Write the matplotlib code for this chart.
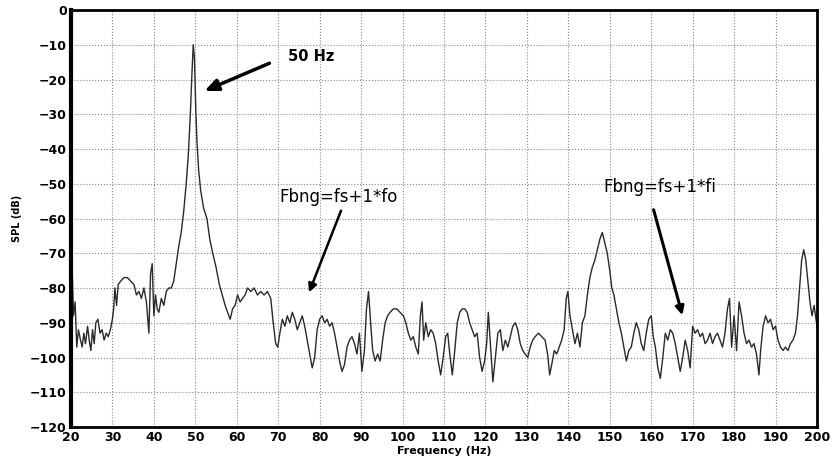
import matplotlib
matplotlib.use('Agg')
import matplotlib.pyplot as plt
import numpy as np

# spectrum: frequency (Hz) and SPL (dB)
freq = [20.0, 20.3, 20.6, 21.0, 21.4, 21.8, 22.3, 22.7, 23.1, 23.5, 24.0, 24.4, 24.8, 25.2, 25.6, 26.0,
        26.5, 27.0, 27.5, 28.0, 28.5, 29.0, 29.5, 30.0, 30.3, 30.6, 31.0, 31.4, 32.0, 32.8, 33.6, 34.4,
        35.2, 35.8, 36.4, 37.0, 37.6, 38.2, 38.8, 39.2, 39.6, 40.0, 40.4, 40.8, 41.2, 41.8, 42.4, 43.0,
        43.6, 44.2, 44.8, 45.4, 46.0, 46.6, 47.2, 47.8, 48.3, 48.8, 49.2, 49.5, 49.8, 50.1, 50.4, 50.8,
        51.3, 52.0, 52.8, 53.5, 54.2, 55.0, 55.8, 56.5, 57.2, 57.8, 58.4, 59.0, 59.6, 60.2, 60.8, 61.4,
        62.0, 62.6, 63.4, 64.2, 65.0, 65.8, 66.6, 67.4, 68.2, 68.8, 69.4, 69.9, 70.4, 71.0, 71.6, 72.2,
        72.8, 73.4, 74.0, 74.6, 75.2, 75.8, 76.4, 77.0, 77.6, 78.2, 78.8, 79.4, 80.0, 80.6, 81.2, 81.8,
        82.4, 83.0, 83.6, 84.2, 84.8, 85.4, 86.0, 86.6, 87.2, 87.8, 88.4, 89.0, 89.6, 90.2, 90.8, 91.3,
        91.8, 92.3, 92.8, 93.4, 94.0, 94.6, 95.2, 95.8, 96.4, 97.0, 97.8, 98.6, 99.4, 100.2, 100.8, 101.4,
        102.0, 102.6, 103.2, 103.8, 104.3, 104.7, 105.1, 105.6, 106.2, 106.8, 107.4, 108.0, 108.6, 109.2,
        109.8, 110.4, 110.9, 111.4, 112.0, 112.6, 113.2, 113.8, 114.4, 115.0, 115.6, 116.2, 116.8, 117.4,
        118.0, 118.6, 119.2, 119.8, 120.3, 120.7, 121.2, 121.8, 122.4, 123.0, 123.6, 124.2, 124.8, 125.4,
        126.0, 126.6, 127.2, 127.8, 128.4, 129.0, 129.6, 130.2, 130.8, 131.4, 132.0, 132.8, 133.6, 134.4,
        135.0, 135.5, 136.0, 136.6, 137.2, 137.8, 138.4, 139.0, 139.5, 139.9, 140.4, 141.0, 141.6, 142.2,
        142.8, 143.4, 144.0, 144.6, 145.2, 145.8, 146.4, 147.0, 147.6, 148.2, 148.8, 149.4, 150.0, 150.5,
        151.0, 151.6, 152.2, 152.8, 153.4, 154.0, 154.6, 155.2, 155.8, 156.4, 157.0, 157.6, 158.2, 158.8,
        159.4, 160.0, 160.5, 161.0, 161.6, 162.2, 162.8, 163.4, 164.0, 164.6, 165.2, 165.8, 166.4, 167.0,
        167.6, 168.2, 168.8, 169.4, 170.0, 170.6, 171.2, 171.8, 172.4, 173.0, 173.6, 174.2, 174.8, 175.4,
        176.0, 176.6, 177.2, 177.8, 178.4, 178.9, 179.4, 180.0, 180.6, 181.2, 181.8, 182.4, 183.0, 183.6,
        184.2, 184.8, 185.4, 186.0, 186.4, 187.0, 187.6, 188.2, 188.8, 189.4, 190.0, 190.6, 191.2, 191.8,
        192.4, 193.0, 193.6, 194.2, 194.8, 195.3, 195.8, 196.3, 196.8, 197.3, 197.8, 198.3, 198.8, 199.3,
        200.0]
spl = [-68, -75, -88, -84, -97, -92, -95, -97, -93, -96, -91, -95, -98, -92, -96, -90,
       -89, -93, -92, -95, -93, -94, -92, -89, -86, -80, -85, -79, -78, -77, -77, -78,
       -79, -82, -81, -83, -80, -84, -93, -76, -73, -88, -82, -86, -87, -83, -85, -81,
       -80, -80, -78, -73, -68, -64, -58, -50, -42, -30, -18, -10, -14, -28, -38, -46,
       -52, -57, -60, -66, -70, -74, -79, -82, -85, -87, -89, -86, -85, -82, -84, -83,
       -82, -80, -81, -80, -82, -81, -82, -81, -83, -90, -96, -97, -93, -89, -91, -88,
       -90, -87, -89, -92, -90, -88, -91, -95, -99, -103, -100, -92, -89, -88, -90, -89,
       -91, -90, -93, -97, -101, -104, -102, -97, -95, -94, -96, -99, -93, -104, -98, -86,
       -81, -90, -98, -101, -99, -101, -95, -90, -88, -87, -86, -86, -87, -88, -90, -93,
       -95, -94, -97, -99, -88, -84, -95, -90, -94, -92, -93, -96, -101, -105,
       -100, -94, -93, -99, -105, -98, -90, -87, -86, -86, -87, -90, -92, -94,
       -93, -100, -104, -101, -96, -87, -96, -107, -100, -93, -92, -98, -95, -97,
       -94, -91, -90, -92, -96, -98, -99, -100, -97, -95, -94, -93, -94, -95,
       -99, -105, -102, -98, -99, -97, -95, -92, -83, -81, -88, -92, -96, -93,
       -97, -90, -88, -82, -77, -74, -72, -69, -66, -64, -67, -70, -75, -80,
       -82, -86, -90, -93, -97, -101, -98, -97, -93, -90, -92, -96, -98, -93,
       -89, -88, -94, -97, -103, -106, -100, -93, -95, -92, -93, -96, -100, -104,
       -100, -95, -98, -103, -91, -93, -92, -94, -93, -96, -95, -93, -96, -94,
       -93, -95, -97, -93, -86, -83, -97, -88, -98, -84, -88, -93, -96, -95,
       -97, -96, -99, -105, -98, -91, -88, -90, -89, -92, -91, -95, -97, -98,
       -97, -98, -96, -95, -93, -88, -80, -72, -69, -72, -78, -84, -88, -85,
       -91]

x_ticks = list(range(20, 201, 10))
y_ticks = list(range(-120, 1, 10))

fig = plt.figure(figsize=(8.34, 4.68), dpi=100)
ax = fig.add_axes([0.0851, 0.0876, 0.8945, 0.891])

ax.plot(freq, spl, color='#2a2a2a', lw=1.0)

ax.set_xlim(20, 200)
ax.set_ylim(-120, 0)
ax.set_xticks(x_ticks)
ax.set_yticks(y_ticks)
ax.tick_params(length=0, labelsize=9, pad=3)
for lab in ax.get_xticklabels() + ax.get_yticklabels():
    lab.set_fontweight('bold')
ax.grid(True, color='#888888', linestyle=':', linewidth=0.8)

# heavy left frame like the original scan
ax.spines['left'].set_linewidth(3.0)
ax.spines['bottom'].set_linewidth(2.0)
ax.spines['top'].set_linewidth(2.0)
ax.spines['right'].set_linewidth(2.0)

ax.set_xlabel('Frequency (Hz)', fontsize=8, fontweight='bold', labelpad=1)
ax.set_ylabel('SPL (dB)', fontsize=7, fontweight='bold', labelpad=6)

# annotations
ax.text(72.4, -13.5, '50 Hz', fontsize=10.5, fontweight='bold', va='center', ha='left')
ax.annotate('', xy=(51.6, -23.6), xytext=(68.5, -15.0),
            arrowprops=dict(arrowstyle='-|>,head_length=0.8,head_width=0.35', color='black', lw=2.5))

ax.text(70.4, -53.8, 'Fbng=fs+1*fo', fontsize=12, fontweight='medium', va='center', ha='left')
ax.annotate('', xy=(77.2, -82.0), xytext=(85.4, -57.0),
            arrowprops=dict(arrowstyle='-|>,head_length=0.5,head_width=0.25', color='black', lw=1.8))

ax.text(148.4, -51.0, 'Fbng=fs+1*fi', fontsize=12, fontweight='medium', va='center', ha='left')
ax.annotate('', xy=(167.7, -88.6), xytext=(160.4, -56.7),
            arrowprops=dict(arrowstyle='-|>,head_length=0.5,head_width=0.25', color='black', lw=2.2))

fig.savefig('out.png', dpi=100)
